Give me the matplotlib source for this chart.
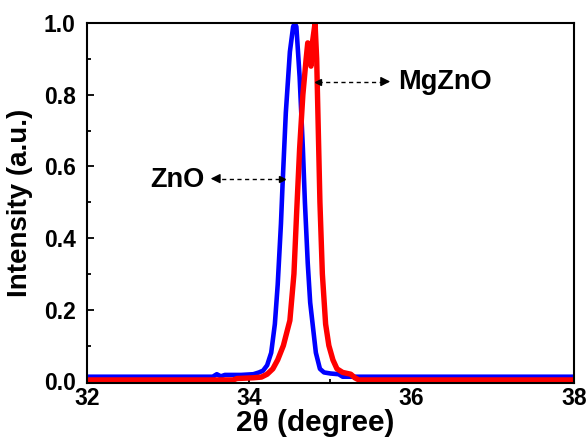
import matplotlib
matplotlib.use("Agg")
import matplotlib.pyplot as plt
from matplotlib.ticker import MultipleLocator

# ZnO (blue) XRD peak
zno_x = [32.0, 33.0, 33.55, 33.6, 33.65, 33.7, 33.9, 34.05, 34.12, 34.17, 34.22, 34.27,
         34.315, 34.35, 34.39, 34.41, 34.45, 34.5, 34.54, 34.56, 34.58, 34.62, 34.66,
         34.685, 34.72, 34.75, 34.78, 34.82, 34.87, 34.92, 35.0, 35.1, 35.15, 36.0, 38.0]
zno_y = [0.013, 0.013, 0.013, 0.02, 0.014, 0.018, 0.018, 0.02, 0.025, 0.03, 0.045, 0.08,
         0.16, 0.27, 0.44, 0.55, 0.75, 0.92, 0.99, 1.0, 0.99, 0.85, 0.65,
         0.5, 0.33, 0.22, 0.16, 0.08, 0.035, 0.025, 0.022, 0.02, 0.013, 0.013, 0.013]

# MgZnO (red) XRD peak
mgzno_x = [32.0, 33.8, 33.85, 34.05, 34.15, 34.22, 34.29, 34.35, 34.42, 34.5, 34.55,
           34.585, 34.62, 34.66, 34.7, 34.72, 34.74, 34.76, 34.78, 34.81, 34.83, 34.85,
           34.87, 34.9, 34.94, 34.98, 35.03, 35.08, 35.15, 35.25, 35.3, 35.35, 38.0]
mgzno_y = [0.004, 0.004, 0.008, 0.01, 0.012, 0.02, 0.035, 0.06, 0.1, 0.17, 0.3,
           0.48, 0.65, 0.8, 0.9, 0.945, 0.93, 0.88, 0.95, 1.0, 0.9, 0.7,
           0.5, 0.3, 0.16, 0.1, 0.06, 0.035, 0.025, 0.02, 0.01, 0.004, 0.004]

x_ticks = [32, 34, 36, 38]
y_ticks = [0.0, 0.2, 0.4, 0.6, 0.8, 1.0]

plt.rcParams['font.family'] = ['Liberation Sans', 'DejaVu Sans']
plt.rcParams['font.weight'] = 'bold'

fig = plt.figure(figsize=(5.87, 4.37), dpi=100)
ax = fig.add_axes([0.148, 0.124, 0.830, 0.823])

ax.plot(zno_x, zno_y, color='#0000ff', lw=3.3, solid_joinstyle='round')
ax.plot(mgzno_x, mgzno_y, color='#ff0000', lw=3.9, solid_joinstyle='round')

ax.set_xlim(32, 38)
ax.set_ylim(-0.004, 1.0)
ax.set_xticks(x_ticks)
ax.set_xticklabels([str(t) for t in x_ticks])
ax.set_yticks(y_ticks)
ax.set_yticklabels([f"{t:.1f}" for t in y_ticks])
ax.xaxis.set_minor_locator(MultipleLocator(1))
ax.yaxis.set_minor_locator(MultipleLocator(0.1))
ax.tick_params(which='both', direction='in', width=1.3, top=False, right=False)
ax.tick_params(which='major', length=5, labelsize=16.5)
ax.tick_params(axis='y', which='major', pad=8)
ax.tick_params(axis='x', which='major', pad=3)
ax.tick_params(which='minor', length=3)
for lab in ax.get_xticklabels() + ax.get_yticklabels():
    lab.set_fontweight('bold')
for s in ax.spines.values():
    s.set_linewidth(1.5)

ax.set_xlabel('2θ (degree)', fontsize=21.5, fontweight='bold')
ax.xaxis.set_label_coords(0.468, -0.073, transform=ax.transAxes)
ax.xaxis.label.set_verticalalignment('top')
ax.set_ylabel('Intensity (a.u.)', fontsize=20, fontweight='bold', labelpad=8)

# MgZnO annotation
ax.plot([34.845, 35.70], [0.837, 0.837], color='black', lw=1, ls=(0, (3, 2.5)))
ax.annotate('', xy=(35.77, 0.837), xytext=(35.66, 0.837),
            arrowprops=dict(arrowstyle='-|>', color='black', lw=1, mutation_scale=14))
ax.plot([34.85], [0.837], marker='<', color='black', ms=4)
ax.text(35.83, 0.835, 'MgZnO', fontsize=19.5, fontweight='bold', va='center', ha='left')

# ZnO annotation
ax.plot([33.56, 34.41], [0.566, 0.566], color='black', lw=1, ls=(0, (3, 2.5)))
ax.annotate('', xy=(33.49, 0.566), xytext=(33.60, 0.566),
            arrowprops=dict(arrowstyle='-|>', color='black', lw=1, mutation_scale=14))
ax.plot([34.40], [0.566], marker='>', color='black', ms=4)
ax.text(33.45, 0.563, 'ZnO', fontsize=19.5, fontweight='bold', va='center', ha='right')

fig.savefig('out.png', dpi=100)
